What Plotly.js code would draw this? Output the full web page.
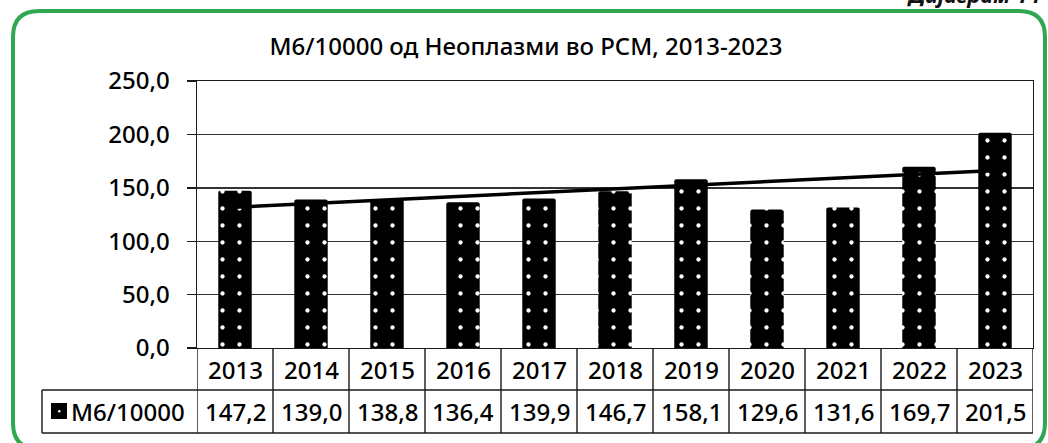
<!DOCTYPE html>
<html>
<head>
<meta charset="utf-8">
<script src="https://cdn.plot.ly/plotly-3.0.1.min.js"></script>
<style>html,body{margin:0;padding:0;background:#fff;overflow:hidden}#chart{width:1048px;height:443px}</style>
</head>
<body>
<div id="chart"></div>
<script>
const years = ["2013","2014","2015","2016","2017","2018","2019","2020","2021","2022","2023"];
const values = [147.2,139.0,138.8,136.4,139.9,146.7,158.1,129.6,131.6,169.7,201.5];
const seriesName = "М6/10000";
const titleText = "М6/10000 од Неоплазми во РСМ, 2013-2023";
const cornerText = "Дијаграм 14";

const FONT = "Noto Sans, sans-serif";
const Wd = 1048, Ht = 443;
const L = 197, R = 1033, T = 81, B = 348;
const PW = R - L, PH = B - T;
const px = p => (p - L) / PW;
const py = p => (B - p) / PH;
const fmt = v => v.toFixed(1).replace('.', ',');

// linear trend (least squares) from the data
const n = values.length;
const xs = values.map((_, i) => i);
const mx = xs.reduce((a, b) => a + b, 0) / n;
const my = values.reduce((a, b) => a + b, 0) / n;
let sxy = 0, sxx = 0;
for (let i = 0; i < n; i++) { sxy += (xs[i] - mx) * (values[i] - my); sxx += (xs[i] - mx) ** 2; }
const slope = sxy / sxx, icpt = my - slope * mx;
const trend = xs.map(x => icpt + slope * x);

const bars = {
  type: 'bar', x: years, y: values, width: 0.44,
  marker: {color: '#000', cornerradius: 2, line: {width: 0},
    pattern: {shape: '.', fgcolor: '#fff', bgcolor: '#000', size: 17, solidity: 0.05}},
  showlegend: false, hoverinfo: 'x+y'
};
const trendLine = {
  type: 'scatter', mode: 'lines', x: years, y: trend,
  line: {color: '#000', width: 3.5}, showlegend: false, hoverinfo: 'skip'
};

const lineStyle = {color: '#1a1a1a', width: 1.4};
const shapes = [];
[390, 433].forEach(p => shapes.push({type: 'line', xref: 'paper', yref: 'paper', x0: px(42), x1: 1, y0: py(p), y1: py(p), line: lineStyle}));
shapes.push({type: 'line', xref: 'paper', yref: 'paper', x0: px(42), x1: px(42), y0: py(390), y1: py(433), line: lineStyle});
for (let i = 0; i <= n; i++) {
  shapes.push({type: 'line', xref: 'x', yref: 'paper', x0: i - 0.5, x1: i - 0.5, y0: py(348), y1: py(433), line: lineStyle});
}
shapes.push({type: 'rect', xref: 'paper', yref: 'paper', x0: px(51), x1: px(67), y0: py(403), y1: py(419), fillcolor: '#000', line: {width: 0}});
shapes.push({type: 'circle', xref: 'paper', yref: 'paper', x0: px(58), x1: px(60.5), y0: py(410), y1: py(412.5), fillcolor: '#fff', line: {width: 0}});
const fx0 = 13, fx1 = 1045, fy0 = 11, fy1 = 449, rr = 26;
const P = (a, b) => px(a) + ',' + py(b);
const framePath = 'M' + P(fx0 + rr, fy0) + ' L' + P(fx1 - rr, fy0) + ' Q' + P(fx1, fy0) + ' ' + P(fx1, fy0 + rr) +
  ' L' + P(fx1, fy1 - rr) + ' Q' + P(fx1, fy1) + ' ' + P(fx1 - rr, fy1) +
  ' L' + P(fx0 + rr, fy1) + ' Q' + P(fx0, fy1) + ' ' + P(fx0, fy1 - rr) +
  ' L' + P(fx0, fy0 + rr) + ' Q' + P(fx0, fy0) + ' ' + P(fx0 + rr, fy0) + ' Z';
shapes.push({type: 'path', xref: 'paper', yref: 'paper', path: framePath, line: {color: '#2fa84f', width: 4}, layer: 'below'});

const tf = {family: FONT, size: 24, color: '#000', weight: 500};
const annotations = [];
years.forEach((yr, i) => {
  annotations.push({xref: 'x', yref: 'paper', x: i, y: py(369), text: yr, showarrow: false, font: tf, xanchor: 'center', yanchor: 'middle'});
  annotations.push({xref: 'x', yref: 'paper', x: i, y: py(411), text: fmt(values[i]), showarrow: false, font: tf, xanchor: 'center', yanchor: 'middle'});
});
annotations.push({xref: 'paper', yref: 'paper', x: px(69), y: py(411), text: seriesName, showarrow: false, font: tf, xanchor: 'left', yanchor: 'middle'});
annotations.push({xref: 'paper', yref: 'paper', x: px(1042), y: py(11), text: '<b><i>' + cornerText + '</i></b>', showarrow: false, font: {family: FONT, size: 22, color: '#111'}, xanchor: 'right', yanchor: 'bottom'});

const layout = {
  width: Wd, height: Ht,
  margin: {l: L, r: Wd - R, t: T, b: Ht - B, pad: 0},
  paper_bgcolor: '#fff', plot_bgcolor: '#fff',
  separators: ',.',
  title: {text: titleText, font: {family: FONT, size: 24, color: '#000', weight: 500}, x: 526 / Wd, xanchor: 'center', y: 1 - 47 / Ht, yanchor: 'middle'},
  xaxis: {type: 'category', range: [-0.5, n - 0.5], showticklabels: false, ticks: '', showgrid: false,
    showline: true, linecolor: '#1a1a1a', linewidth: 1.4, mirror: true, zeroline: false, fixedrange: true},
  yaxis: {range: [0, 250], dtick: 50, tickformat: '.1f', showgrid: true, gridcolor: '#333', gridwidth: 1.4,
    showline: true, linecolor: '#1a1a1a', linewidth: 1.4, mirror: true, ticks: 'outside', ticklen: 9, tickcolor: '#1a1a1a', tickwidth: 1.4,
    ticklabelstandoff: 12, zeroline: false, tickfont: tf, fixedrange: true},
  shapes: shapes, annotations: annotations, showlegend: false
};

Plotly.newPlot('chart', [bars, trendLine], layout, {displayModeBar: false, staticPlot: true});
</script>
</body>
</html>
